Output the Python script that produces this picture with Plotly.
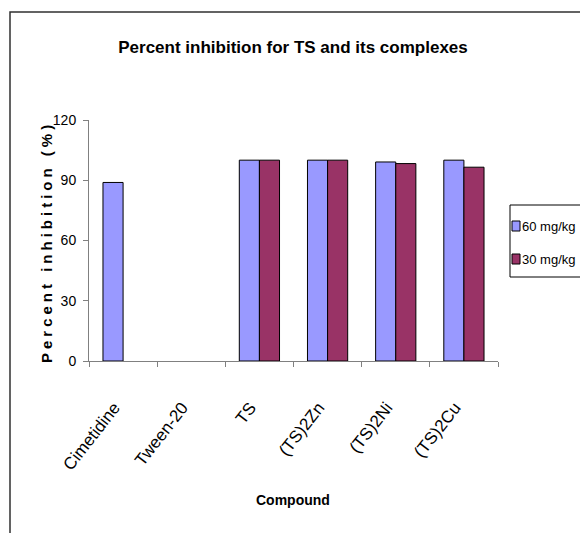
import plotly.graph_objects as go

compounds = ["Cimetidine", "Tween-20", "TS", "(TS)2Zn", "(TS)2Ni", "(TS)2Cu"]
dose_60 = [88.9, None, 100, 100, 99.1, 100]
dose_30 = [None, None, 100, 100, 98.3, 96.5]
series_names = ["60 mg/kg", "30 mg/kg"]
series_colors = ["#9999FF", "#993366"]
y_ticks = [0, 30, 60, 90, 120]

# page is shifted by the default 8px body margin
OFF = 8
W, H = 588 - OFF, 533 - OFF
L, R, T, B = 89, 498, 120, 361  # plot area, page pixels
pw, ph = R - L, B - T


def px(x):
    return (x - L) / pw


def py(y):
    return (B - y) / ph


FONT = "Liberation Sans, Arial, sans-serif"

fig = go.Figure()
for name, vals, col in zip(series_names, [dose_60, dose_30], series_colors):
    fig.add_trace(go.Bar(x=compounds, y=vals, name=name,
                         marker=dict(color=col, line=dict(color="black", width=1))))

# manual legend (box, keys, labels)
legend_shapes = [dict(type="rect", xref="paper", yref="paper",
                      x0=px(510), x1=px(640), y0=py(205), y1=py(277),
                      line=dict(color="black", width=1), fillcolor="white")]
legend_ann = []
key_rows = [(221, 231), (254, 264)]
for (y0, y1), name, col in zip(key_rows, series_names, series_colors):
    legend_shapes.append(dict(type="rect", xref="paper", yref="paper",
                              x0=px(512), x1=px(520), y0=py(y0), y1=py(y1),
                              line=dict(color="black", width=1), fillcolor=col))
    legend_ann.append(dict(text=name, x=px(520), y=py((y0 + y1) / 2), xref="paper",
                           yref="paper", showarrow=False, xanchor="left",
                           yanchor="middle", font=dict(size=13)))

fig.update_layout(
    width=W, height=H,
    margin=dict(l=L - OFF, r=W - (R - OFF), t=T - OFF, b=H - (B - OFF), autoexpand=False),
    paper_bgcolor="white", plot_bgcolor="white",
    barmode="group", bargap=0.41, bargroupgap=0,
    font=dict(family=FONT, size=13, color="black"),
    showlegend=False,
    title=dict(text="<b>Percent inhibition for TS and its complexes</b>",
               x=px(293), xref="paper", xanchor="center",
               y=1 - (47 - OFF) / H, yref="container", yanchor="middle",
               font=dict(size=17, family=FONT)),
    xaxis=dict(type="category", showline=True, linecolor="#808080", linewidth=1,
               ticks="outside", tickson="boundaries", ticklen=5, tickcolor="#808080",
               tickangle=-52, tickfont=dict(size=17), ticklabelstandoff=29,
               ticklabelshift=-9, showgrid=False, zeroline=False),
    yaxis=dict(range=[0, 120], tickvals=y_ticks, showline=True, linecolor="#808080",
               linewidth=1, ticks="outside", ticklen=5, tickcolor="#808080",
               tickfont=dict(size=14), ticklabelstandoff=4,
               showgrid=False, zeroline=False),
    shapes=[dict(type="path", xref="paper", yref="paper",
                 path=f"M {px(640)},{py(12)} L {px(10)},{py(12)} L {px(10)},{py(580)}",
                 line=dict(color="#303030", width=1.5))] + legend_shapes,
    annotations=[
        dict(text="<b>Compound</b>", x=px(293), y=py(500), xref="paper", yref="paper",
             showarrow=False, font=dict(size=14), xanchor="center", yanchor="middle"),
        dict(text='<b><span style="letter-spacing:4px">Percent inhibition (%)</span></b>',
             x=px(46), y=py(242), xref="paper",
             yref="paper", showarrow=False, textangle=-90, font=dict(size=15),
             xanchor="center", yanchor="middle"),
    ] + legend_ann,
)

fig.write_html("out.html")
